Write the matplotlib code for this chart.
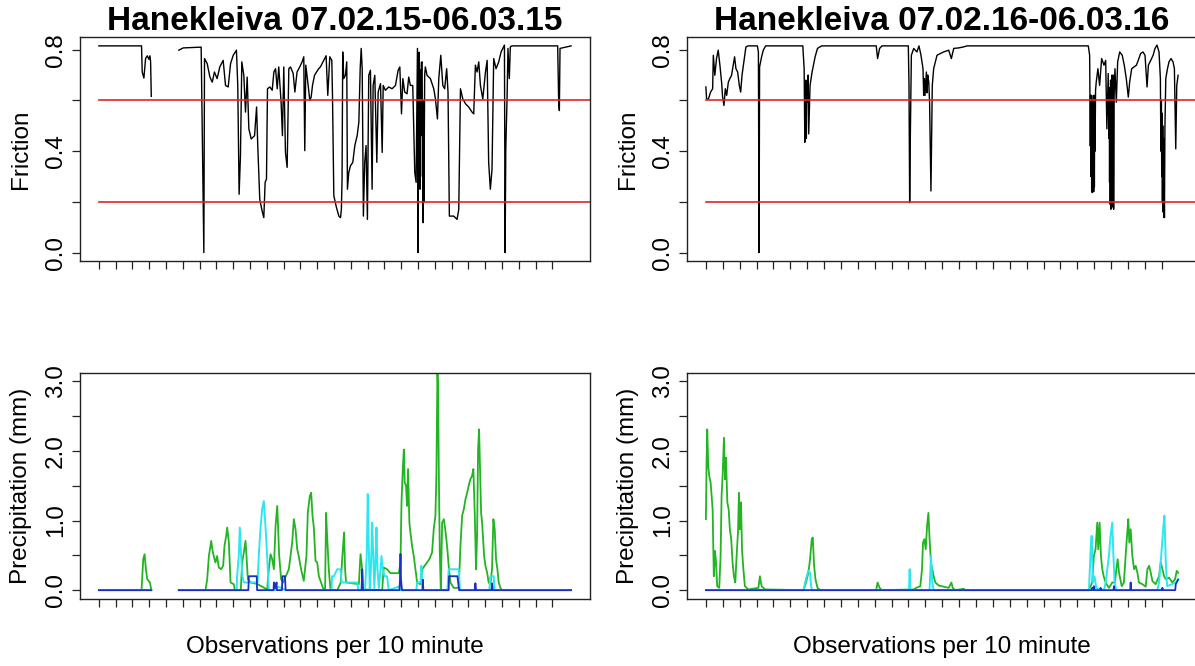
import numpy as np
import matplotlib
matplotlib.use("Agg")
import matplotlib.pyplot as plt

nan = float("nan")

TITLES = ["Hanekleiva 07.02.15-06.03.15", "Hanekleiva 07.02.16-06.03.16"]
DAY_TICKS = list(range(28))
FRICTION_LIMITS = [0.2, 0.6]
FRICTION_TICKS = [0.0, 0.2, 0.4, 0.6, 0.8]
FRICTION_TICKLABELS = ["0.0", "", "0.4", "", "0.8"]
PRECIP_TICKS = [0.0, 0.5, 1.0, 1.5, 2.0, 2.5, 3.0]
PRECIP_TICKLABELS = ["0.0", "", "1.0", "", "2.0", "", "3.0"]

# ---------------- Friction 2015 (day, value) ----------------
F15_DAY = [0, 2.54, 2.58, 2.68, 2.78, 2.88, 2.98, 3.04, 3.08, 3.12, nan,
           4.76, 5.02, 6.09, 6.17, 6.25, 6.29, 6.45, 6.61, 6.75, 6.88, 7.04, 7.2, 7.40, 7.54, 7.70,
           7.84, 8.0, 8.19, 8.27, 8.35, 8.43, 8.51, 8.63, 8.73, 8.83, 8.93, 9.07, 9.27, 9.39, 9.46,
           9.58, 9.72, 9.82, 9.90, 9.98, 10.04, 10.18, 10.32, 10.42, 10.52, 10.62, 10.71, 10.85,
           10.93, 11.01, 11.11, 11.21, 11.31, 11.41, 11.57, 11.67, 11.80, 11.96, 12.1, 12.2, 12.26,
           12.32, 12.44, 12.56, 12.64, 12.72, 12.84, 12.96, 13.09, 13.19, 13.53, 13.63, 13.75,
           13.87, 13.91, 13.99, 14.15, 14.29, 14.39, 14.44, 14.48, 14.52, 14.58, 14.68, 14.76,
           14.80, 14.88, 14.98, 15.12, 15.24, 15.38, 15.48, 15.56, 15.62, 15.68, 15.75, 15.83,
           15.91, 15.99, 16.07, 16.17, 16.27, 16.33, 16.43, 16.55, 16.63, 16.77, 16.87, 16.93,
           17.06, 17.26, 17.46, 17.66, 17.82, 17.92, 18.02, 18.10, 18.21, 18.35, 18.45, 18.55,
           18.69, 18.81, 18.89, 18.97, 19.01, 19.03, 19.05, 19.07, 19.09, 19.11, 19.13, 19.15,
           19.17, 19.20, 19.25, 19.27, 19.29, 19.31, 19.33, 19.35, 19.37, 19.40, 19.44, 19.54,
           19.74, 19.94, 20.04, 20.16, 20.24, 20.36, 20.48, 20.59, 20.71, 20.79, 20.87, 21.13,
           21.33, 21.43, 21.53, 21.67, 21.83, 22.02, 22.22, 22.32, 22.42, 22.52, 22.62, 22.72,
           22.86, 23.02, 23.12, 23.21, 23.31, 23.41, 23.51, 23.65, 23.81, 23.95, 24.05, 24.15,
           24.19, 24.23, 24.31, 24.36, 24.44, 24.50, 24.60, 27.32, 27.38, 27.42, 27.46, 28.12]
F15_VAL = [0.815, 0.815, 0.712, 0.688, 0.765, 0.776, 0.762, 0.776, 0.752, 0.616, nan,
           0.798, 0.807, 0.81, 0.395, 0.0, 0.765, 0.745, 0.692, 0.672, 0.712, 0.686, 0.732, 0.758,
           0.659, 0.653, 0.745, 0.778, 0.798, 0.659, 0.23, 0.382, 0.752, 0.699, 0.554, 0.692,
           0.488, 0.448, 0.461, 0.574, 0.422, 0.21, 0.164, 0.138, 0.277, 0.29, 0.646, 0.653, 0.64,
           0.712, 0.725, 0.646, 0.732, 0.593, 0.461, 0.732, 0.395, 0.336, 0.725, 0.732, 0.706,
           0.633, 0.712, 0.732, 0.752, 0.772, 0.402, 0.739, 0.672, 0.6, 0.613, 0.659, 0.699, 0.712,
           0.725, 0.732, 0.776, 0.62, 0.772, 0.758, 0.62, 0.224, 0.177, 0.144, 0.138, 0.171, 0.29,
           0.791, 0.686, 0.699, 0.752, 0.25, 0.316, 0.342, 0.356, 0.422, 0.461, 0.514, 0.725,
           0.805, 0.725, 0.144, 0.356, 0.422, 0.131, 0.699, 0.719, 0.25, 0.659, 0.699, 0.356,
           0.633, 0.666, 0.395, 0.659, 0.64, 0.653, 0.646, 0.659, 0.719, 0.732, 0.547, 0.686,
           0.633, 0.626, 0.692, 0.659, 0.659, 0.316, 0.277, 0.805, 0.0, 0.78, 0.30, 0.79, 0.35,
           0.70, 0.25, 0.72, 0.46, 0.75, 0.752, 0.30, 0.60, 0.118, 0.50, 0.20, 0.356, 0.70, 0.732,
           0.699, 0.686, 0.646, 0.606, 0.527, 0.686, 0.778, 0.659, 0.646, 0.725, 0.633, 0.144,
           0.144, 0.131, 0.171, 0.646, 0.606, 0.587, 0.574, 0.554, 0.547, 0.739, 0.712, 0.752,
           0.659, 0.606, 0.712, 0.758, 0.356, 0.25, 0.329, 0.765, 0.725, 0.752, 0.791, 0.805,
           0.818, 0.0, 0.409, 0.62, 0.805, 0.686, 0.811, 0.815, 0.815, 0.593, 0.56, 0.805, 0.815]

# ---------------- Friction 2016 (day, value) ----------------
F16_DAY = [0, 0.04, 0.14, 0.28, 0.40, 0.44, 0.53, 0.63, 0.73, 0.83, 0.93, 0.99, 1.07, 1.15,
           1.23, 1.33, 1.42, 1.52, 1.62, 1.70, 1.78, 1.88, 1.98, 2.06, 2.14, 2.26, 2.37, 2.51,
           3.05, 3.11, 3.15, 3.18, 3.30, 3.40, 3.54, 5.74, 5.82, 5.86, 5.89, 5.92, 5.95, 5.98,
           6.03, 6.06, 6.09, 6.17, 6.29, 6.47, 6.61, 6.86, 10.09, 10.17, 10.29, 10.43, 11.99,
           12.03, 12.07, 12.11, 12.17, 12.31, 12.50, 12.62, 12.74, 12.86, 12.90, 12.94, 12.98,
           13.06, 13.10, 13.14, 13.20, 13.25, 13.33, 13.41, 13.49, 13.69, 13.89, 14.08, 14.38,
           14.54, 14.68, 14.97, 15.27, 15.47, 22.65, 22.73, 22.77, 22.79, 22.81, 22.83, 22.85,
           22.87, 22.89, 22.91, 22.93, 22.95, 22.97, 22.99, 23.01, 23.03, 23.05, 23.08, 23.12,
           23.22, 23.32, 23.44, 23.58, 23.68, 23.75, 23.83, 23.87, 23.89, 23.91, 23.93, 23.95,
           23.97, 23.99, 24.01, 24.03, 24.05, 24.07, 24.09, 24.11, 24.13, 24.15, 24.18, 24.23,
           24.31, 24.39, 24.51, 24.66, 24.78, 24.90, 25.02, 25.10, 25.22, 25.36, 25.50, 25.61,
           25.75, 25.89, 26.01, 26.13, 26.21, 26.35, 26.49, 26.60, 26.72, 26.84, 26.92, 26.95,
           26.98, 27.00, 27.02, 27.04, 27.06, 27.08, 27.10, 27.12, 27.14, 27.16, 27.19, 27.24,
           27.34, 27.43, 27.55, 27.67, 27.75, 27.83, 27.89, 27.97]
F16_VAL = [0.653, 0.607, 0.604, 0.633, 0.646, 0.778, 0.699, 0.765, 0.798, 0.739, 0.672, 0.613,
           0.58, 0.646, 0.62, 0.672, 0.686, 0.699, 0.739, 0.772, 0.725, 0.712, 0.659, 0.633, 0.699,
           0.758, 0.811, 0.815, 0.815, 0.791, 0.0, 0.732, 0.772, 0.798, 0.815, 0.815, 0.725, 0.435,
           0.527, 0.68, 0.45, 0.66, 0.593, 0.70, 0.468, 0.659, 0.712, 0.772, 0.805, 0.815, 0.815,
           0.765, 0.805, 0.815, 0.815, 0.659, 0.197, 0.461, 0.778, 0.805, 0.791, 0.815, 0.778,
           0.725, 0.62, 0.686, 0.62, 0.712, 0.63, 0.70, 0.672, 0.593, 0.243, 0.659, 0.725, 0.778,
           0.785, 0.791, 0.798, 0.765, 0.805, 0.807, 0.811, 0.815, 0.815, 0.778, 0.42, 0.62, 0.30,
           0.62, 0.24, 0.60, 0.237, 0.58, 0.25, 0.62, 0.24, 0.60, 0.26, 0.62, 0.40, 0.64, 0.672,
           0.725, 0.659, 0.765, 0.739, 0.758, 0.488, 0.706, 0.45, 0.65, 0.277, 0.62, 0.19, 0.68,
           0.171, 0.65, 0.20, 0.70, 0.18, 0.66, 0.20, 0.70, 0.171, 0.62, 0.725, 0.593, 0.752,
           0.791, 0.778, 0.739, 0.686, 0.613, 0.672, 0.725, 0.732, 0.739, 0.758, 0.785, 0.791,
           0.778, 0.653, 0.739, 0.758, 0.778, 0.805, 0.818, 0.791, 0.686, 0.40, 0.60, 0.30, 0.55,
           0.20, 0.50, 0.16, 0.45, 0.14, 0.35, 0.138, 0.50, 0.686, 0.725, 0.752, 0.765, 0.752,
           0.725, 0.409, 0.659, 0.699]

# ---------------- Precipitation 2015 ----------------
G15_DAY = [0, 2.54, 2.64, 2.72, 2.80, 2.88, 3.04, 3.12, nan, 4.76, 6.35, 6.45, 6.55, 6.69,
           6.77, 6.84, 6.94, 7.04, 7.14, 7.28, 7.40, 7.48, 7.58, 7.64, 7.74, 7.84, 8.03, 8.1,
           8.45, 8.53, 8.63, 8.73, 8.79, 8.87, 9.03, 9.42, 10.02, 10.12, 10.22, 10.32, 10.42,
           10.52, 10.62, 10.67, 10.73, 10.85, 10.97, 11.31, 11.41, 11.51, 11.61, 11.71, 11.81,
           11.90, 12.04, 12.2, 12.36, 12.44, 12.56, 12.64, 12.72, 12.8, 12.9, 13.0, 13.1, 13.23,
           13.39, 13.47, 13.53, 13.59, 13.69, 13.79, 13.99, 14.2, 14.40, 14.52, 14.60, 14.66,
           14.72, 15.48, 15.58, 15.68, 15.73, 16.87, 16.96, 17.16, 17.36, 17.86, 17.96, 18.02,
           18.10, 18.16, 18.21, 18.29, 18.35, 18.41, 18.49, 18.55, 18.65, 18.75, 18.85, 18.95,
           19.15, 19.25, 19.40, 19.54, 19.68, 19.84, 19.94, 20.04, 20.10, 20.16, 20.20, 20.24,
           20.30, 20.36, 20.44, 20.54, 20.60, 20.67, 20.75, 20.83, 20.93, 21.13, 21.43, 21.53,
           21.63, 21.73, 21.83, 21.93, 22.02, 22.12, 22.22, 22.30, 22.38, 22.46, 22.52, 22.58,
           22.64, 22.70, 22.76, 22.82, 22.88, 22.94, 23.02, 23.12, 23.21, 23.31, 23.41, 23.49,
           23.57, 23.65, 23.73, 23.81, 23.91, 24.01, 28.12]
G15_VAL = [0, 0, 0.445, 0.517, 0.30, 0.158, 0.11, 0, nan, 0, 0, 0.158, 0.49, 0.708, 0.565,
           0.49, 0.397, 0.49, 0.325, 0.30, 0.35, 0.636, 0.78, 0.90, 0.684, 0.11, 0.086, 0, 0,
           0.397, 0.54, 0.708, 0.49, 0.158, 0.11, 0.09, 0.01, 0.30, 0.517, 0.445, 0.30, 0.92,
           1.21, 0.92, 0.517, 0.158, 0.11, 0.30, 0.49, 0.684, 1.02, 0.875, 0.588, 0.49, 0.30,
           0.134, 0.49, 1.11, 1.35, 1.40, 1.07, 0.90, 0.42, 0.397, 0.2, 0.11, 0, 0, 1.11, 0.78,
           0.30, 0.01, 0, 0, 0.11, 0.565, 0.83, 0.30, 0.11, 0.086, 0.517, 0.30, 0.01, 0, 0.325,
           0.30, 0.244, 0.244, 0.397, 1.26, 1.76, 2.02, 1.545, 1.50, 1.21, 1.74, 0.97, 0.83,
           0.636, 0.49, 0.30, 0.11, 0.086, 0.30, 0.35, 0.397, 0.445, 0.54, 0.875, 1.07, 1.69,
           3.15, 2.885, 1.74, 0.54, 0.01, 0.97, 1.02, 0.92, 0.78, 0.588, 0.35, 0.11, 0.033,
           0.033, 0.636, 1.07, 1.16, 1.306, 1.40, 1.50, 1.593, 1.64, 1.74, 1.11, 0.30, 0.78,
           2.02, 2.31, 1.74, 1.11, 0.97, 0.732, 0.49, 0.35, 0.25, 0.11, 0.086, 0.30, 1.02, 0.875,
           0.445, 0.30, 0.11, 0.033, 0, 0]

C15_DAY = [0, 3.12, nan, 4.76, 8.2, 8.23, 8.33, 8.39, 8.47, 8.55, 8.63, 9.45, 9.52, 9.62, 9.72,
           9.82, 9.92, 10.02, 10.12, 10.5, 10.6, 10.9, 11.1, 13.85, 13.89, 14.0, 14.19, 14.39,
           14.45, 15.38, 15.45, 15.85, 15.95, 16.01, 16.07, 16.13, 16.2, 16.27, 16.33, 16.4,
           16.47, 16.53, 16.59, 16.67, 16.77, 16.83, 16.9, 17.02, 17.16, 17.26, 17.86, 17.95,
           18.9, 18.95, 19.15, 19.2, 19.25, 19.3, 20.75, 20.83, 21.43, 21.5, 23.25, 23.31,
           23.51, 23.56, 28.12]
C15_VAL = [0, 0, nan, 0, 0, 0.2, 0.49, 0.90, 0.49, 0.2, 0.11, 0.11, 0.49, 0.875, 1.16, 1.28,
           0.92, 0.49, 0, 0, 0.05, 0.03, 0, 0, 0.2, 0.2, 0.3, 0.3, 0.11, 0.11, 0, 0, 0.5, 1.38,
           0.64, 0, 0.3, 0.97, 0.58, 0.03, 0.4, 0.90, 0.30, 0.03, 0.3, 0.49, 0.3, 0.2, 0.2, 0,
           0.05, 0, 0, 0.11, 0.11, 0.35, 0.1, 0, 0, 0.3, 0.3, 0, 0, 0.2, 0.2, 0, 0]

B15_DAY = [0, 3.12, nan, 4.76, 8.9, 8.93, 9.40, 9.42, 10.4, 10.42, 10.5, 10.58, 10.6, 10.9,
           10.93, 11.08, 11.12, 15.64, 15.68, 15.72, 17.9, 17.93, 17.96, 17.99, 18.05, 19.27,
           19.29, 19.32, 20.83, 20.85, 21.35, 21.4, 21.45, 22.38, 22.42, 22.46, 23.38, 23.41,
           23.45, 28.12]
B15_VAL = [0, 0, nan, 0, 0, 0.2, 0.2, 0, 0, 0.11, 0.03, 0.11, 0, 0, 0.2, 0.2, 0, 0, 0.3, 0,
           0, 0.15, 0.52, 0.15, 0, 0, 0.15, 0, 0, 0.2, 0.2, 0.1, 0, 0, 0.1, 0, 0, 0.1, 0, 0]

# ---------------- Precipitation 2016 ----------------
G16_DAY = [0, 0.04, 0.08, 0.14, 0.20, 0.28, 0.34, 0.40, 0.44, 0.47, 0.53, 0.59, 0.67, 0.79,
           0.87, 0.93, 0.99, 1.07, 1.13, 1.19, 1.27, 1.35, 1.42, 1.50, 1.58, 1.66, 1.74, 1.82,
           1.90, 1.96, 2.02, 2.08, 2.14, 2.22, 2.31, 2.51, 3.11, 3.20, 3.30, 3.50, 5.78, 5.93,
           6.07, 6.17, 6.27, 6.33, 6.41, 6.49, 6.61, 6.77, 10.09, 10.17, 10.29, 10.43, 12.31,
           12.46, 12.70, 12.80, 12.86, 12.94, 13.02, 13.10, 13.18, 13.25, 13.33, 13.41, 13.49,
           13.59, 13.79, 14.08, 14.38, 14.54, 14.62, 14.77, 15.27, 15.37, 22.69, 22.88, 22.98,
           23.08, 23.18, 23.24, 23.32, 23.40, 23.48, 23.56, 23.68, 23.87, 24.07, 24.23, 24.31,
           24.39, 24.47, 24.63, 24.76, 24.86, 24.96, 25.02, 25.08, 25.16, 25.26, 25.36, 25.46,
           25.56, 25.65, 25.85, 26.05, 26.15, 26.25, 26.35, 26.45, 26.64, 26.84, 26.94, 27.04,
           27.14, 27.24, 27.43, 27.63, 27.79, 27.89, 27.97]
G16_VAL = [1.02, 1.83, 2.31, 1.78, 1.64, 1.545, 1.354, 1.16, 0.588, 0.2, 0.565, 0.445, 0.057,
           0.033, 0.49, 1.354, 1.64, 2.19, 1.593, 1.904, 1.26, 1.16, 0.875, 0.732, 0.397, 0.2,
           0.11, 0.49, 0.83, 1.40, 0.875, 1.26, 0.588, 0.30, 0.057, 0.01, 0.033, 0.2, 0.057,
           0.01, 0, 0.11, 0.25, 0.445, 0.732, 0.756, 0.35, 0.158, 0.033, 0, 0, 0.11, 0.033, 0,
           0.01, 0.033, 0.057, 0.30, 0.684, 0.732, 0.588, 0.92, 1.11, 0.732, 0.397, 0.30, 0.2,
           0.11, 0.067, 0.05, 0.033, 0.11, 0.033, 0, 0.02, 0, 0, 0.11, 0.49, 0.588, 0.97, 0.588,
           0.97, 0.49, 0.30, 0.2, 0.11, 0.033, 0.11, 0.11, 0.30, 0.445, 0.25, 0.057, 0.11, 0.49,
           0.83, 1.02, 0.684, 0.875, 0.49, 0.30, 0.35, 0.25, 0.11, 0.086, 0.05, 0.30, 0.35, 0.25,
           0.13, 0.086, 0.2, 0.397, 0.30, 0.2, 0.158, 0.18, 0.11, 0.158, 0.277, 0.25]

C16_DAY = [0, 5.78, 5.88, 5.97, 6.07, 6.17, 6.23, 6.29, 12.03, 12.07, 12.11, 13.25, 13.33,
           13.41, 13.49, 22.69, 22.79, 22.85, 22.92, 23.02, 23.12, 23.58, 23.68, 23.87, 23.97,
           24.07, 24.13, 24.21, 24.31, 26.74, 26.84, 27.00, 27.10, 27.16, 27.24, 27.32, 27.83,
           27.97]
C16_VAL = [0, 0, 0.11, 0.2, 0.28, 0.25, 0.057, 0, 0, 0.30, 0, 0, 0.49, 0.11, 0, 0, 0.588,
           0.78, 0.11, 0.2, 0.03, 0, 0.11, 0.49, 0.78, 0.97, 0.54, 0.11, 0, 0, 0.11, 0.588, 0.92,
           1.07, 0.397, 0.057, 0.11, 0.158]

B16_DAY = [0, 22.85, 22.88, 22.93, 22.98, 23.02, 23.35, 23.38, 23.42, 24.14, 24.17, 24.20,
           25.13, 25.16, 25.19, 27.00, 27.04, 27.08, 27.80, 27.83, 27.97]
B16_VAL = [0, 0, 0.033, 0, 0.057, 0, 0, 0.033, 0, 0, 0.057, 0, 0, 0.11, 0, 0, 0.033, 0, 0,
           0.086, 0.15]

FRICTION = [(F15_DAY, F15_VAL), (F16_DAY, F16_VAL)]
PRECIP = [
    [(G15_DAY, G15_VAL), (C15_DAY, C15_VAL), (B15_DAY, B15_VAL)],
    [(G16_DAY, G16_VAL), (C16_DAY, C16_VAL), (B16_DAY, B16_VAL)],
]
PRECIP_COLORS = ["#22b422", "#2ee6ef", "#1a2fc8"]
PRECIP_LW = [1.3, 1.4, 1.3]

plt.rcParams["font.family"] = ["Liberation Sans", "DejaVu Sans"]

W_PX, H_PX = 1195, 666
fig = plt.figure(figsize=(W_PX / 100, H_PX / 100), dpi=100)

lefts = [80 / W_PX, 687 / W_PX]
width = 510 / W_PX
top_rect = (1 - 261 / H_PX, (261 - 37) / H_PX)
bot_rect = (1 - 598.5 / H_PX, (598.5 - 373) / H_PX)

FS = 17.5
SPINE = "#222222"
RED = "#e02424"


def style(ax, yticks, ylabels):
    for s in ax.spines.values():
        s.set_color(SPINE)
        s.set_linewidth(1.0)
    ax.set_xticks(DAY_TICKS)
    ax.set_xticklabels([])
    ax.set_yticks(yticks)
    ax.set_yticklabels(ylabels, rotation=90, va="center", fontsize=FS)
    ax.tick_params(axis="both", direction="out", length=5.5, width=0.9, color=SPINE)
    ax.tick_params(axis="y", pad=4)


for i in range(2):
    days_all = np.array(FRICTION[i][0], dtype=float)
    dmax = np.nanmax(days_all)
    xlim = (-0.04 * dmax, 1.04 * dmax)

    axF = fig.add_axes([lefts[i], top_rect[0], width, top_rect[1]])
    axF.plot(FRICTION[i][0], FRICTION[i][1], color="black", lw=1.0)
    axF.set_xlim(*xlim)
    axF.set_ylim(-0.033, 0.85)
    frac0 = (0 - xlim[0]) / (xlim[1] - xlim[0])
    for th in FRICTION_LIMITS:
        axF.axhline(th, xmin=frac0, xmax=1, color=RED, lw=1.2)
    style(axF, FRICTION_TICKS, FRICTION_TICKLABELS)
    axF.set_ylabel("Friction", fontsize=FS, labelpad=9)
    axF.set_title(TITLES[i], fontsize=24, fontweight="bold", pad=5)

    axP = fig.add_axes([lefts[i], bot_rect[0], width, bot_rect[1]])
    for (d, v), c, lw in zip(PRECIP[i], PRECIP_COLORS, PRECIP_LW):
        axP.plot(d, v, color=c, lw=lw)
    axP.set_xlim(*xlim)
    axP.set_ylim(-0.12, 3.12)
    style(axP, PRECIP_TICKS, PRECIP_TICKLABELS)
    axP.set_ylabel("Precipitation (mm)", fontsize=FS, labelpad=9)
    axP.set_xlabel("Observations per 10 minute", fontsize=FS, labelpad=18)

fig.savefig("out.png", dpi=100)
